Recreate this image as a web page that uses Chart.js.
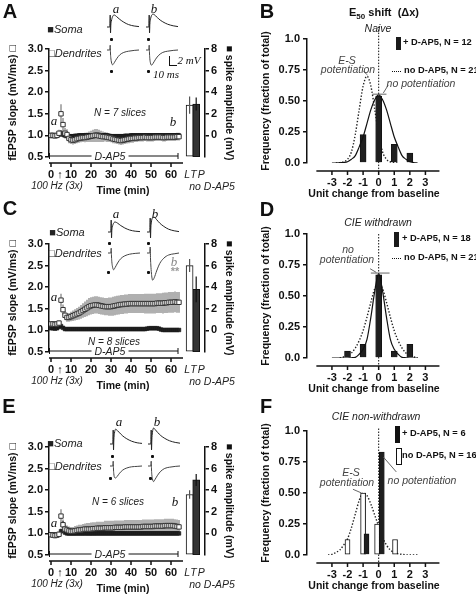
<!DOCTYPE html>
<html><head><meta charset="utf-8">
<script src="https://cdn.jsdelivr.net/npm/chart.js@4.4.0/dist/chart.umd.min.js"></script>
<style>
html,body{margin:0;padding:0;background:#fff;}
#fig{position:relative;width:476px;height:599px;overflow:hidden;font-family:"Liberation Sans",Arial,sans-serif;color:#111;}
#fig canvas{position:absolute;}
.t{position:absolute;white-space:nowrap;transform:translate(-50%,-50%);line-height:1;}
.l{position:absolute;white-space:nowrap;transform:translate(0,-50%);line-height:1;}
.lbl{font-weight:bold;font-size:20px;}
.it{font-style:italic;color:#222;font-size:10.5px;}
.sf{font-family:"Liberation Serif","DejaVu Serif",serif;font-style:italic;font-size:13px;}
.lg{font-weight:bold;font-size:9.3px;}
.n{font-style:normal;}
.bx{position:absolute;}
</style></head><body><div id="fig"></div>
<script>
// ================= DATA =================
const minutes = [0,1,2,3,4,5,6,7,8,9,10,11,12,13,14,15,16,17,18,19,20,21,22,23,24,25,26,27,28,29,30,31,32,33,34,35,36,37,38,39,40,41,42,43,44,45,46,47,48,49,50,51,52,53,54,55,56,57,58,59,60,61,62,63,64];
const timeTicks = [0,10,20,30,40,50,60];
const slopeTicks = [0.5,1.0,1.5,2.0,2.5,3.0];
const ampTicks = [0,2,4,6,8];
const unitTicks = [-3,-2,-1,0,1,2,3];
const freqTicks = [0,0.25,0.5,0.75,1.0];
const freqTickLabels = ['0.0','0.25','0.50','0.75','1.0'];

// Panel A (naive)
const dendA = [1.00,1.00,0.99,1.00,1.05, 1.50,1.25,1.05,1.02,0.93, 0.90,0.89,0.90,0.92,0.93, 0.94,0.95,0.95,0.96,0.97, 0.98,0.99,1.00,1.00,0.99, 0.98,0.97,0.97,0.96,0.95, 0.94,0.92,0.91,0.90,0.89, 0.88,0.89,0.90,0.91,0.92, 0.93,0.93,0.94,0.94,0.95, 0.95,0.95,0.96,0.95,0.95, 0.95,0.95,0.96,0.96,0.96, 0.96,0.95,0.95,0.96,0.96, 0.96,0.96,0.96,0.97,0.97];
const dendAErr = [0.07,0.07,0.07,0.07,0.08, 0.22,0.15,0.12,0.12,0.11, 0.10,0.10,0.10,0.10,0.10, 0.10,0.10,0.11,0.11,0.12, 0.13,0.14,0.15,0.15,0.14, 0.13,0.12,0.11,0.11,0.10, 0.10,0.10,0.10,0.10,0.10, 0.10,0.10,0.10,0.10,0.10, 0.10,0.10,0.09,0.09,0.09, 0.09,0.09,0.09,0.09,0.09, 0.09,0.09,0.09,0.09,0.09, 0.09,0.09,0.09,0.09,0.09, 0.09,0.09,0.09,0.09,0.09];
const somaA = [1.00,1.00,1.00,1.00,1.02, 1.05,1.02,1.00,0.99,0.98, 0.98,0.98,0.99,0.99,1.00, 1.00,1.00,1.00,1.00,1.00, 1.00,1.00,1.01,1.01,1.01, 1.00,1.00,1.00,1.00,0.99, 0.98,0.98,0.98,0.98,0.98, 0.98,0.98,0.99,0.99,0.99, 1.00,1.00,1.00,1.00,1.00, 1.00,1.00,1.00,1.00,1.00, 1.00,1.00,1.00,1.00,1.00, 1.00,1.00,1.00,1.00,1.00, 1.00,1.00,1.00,1.00,1.00];
const somaAErr = [0.04,0.04,0.04,0.04,0.05, 0.07,0.06,0.05,0.05,0.05, 0.05,0.05,0.05,0.05,0.05, 0.05,0.05,0.05,0.05,0.05, 0.05,0.05,0.05,0.05,0.05, 0.05,0.05,0.05,0.05,0.05, 0.05,0.05,0.05,0.05,0.05, 0.05,0.05,0.05,0.05,0.05, 0.05,0.05,0.05,0.05,0.05, 0.05,0.05,0.05,0.05,0.05, 0.05,0.05,0.05,0.05,0.05, 0.05,0.05,0.05,0.05,0.05, 0.05,0.05,0.05,0.05,0.05];
const ltpA = {slope:1.70, slopeErr:0.20, amp:2.9, ampErr:0.6};

// Panel C (CIE withdrawn)
const dendC = [1.15,1.15,1.14,1.15,1.17, 1.70,1.48,1.35,1.30,1.30, 1.32,1.34,1.36,1.38,1.40, 1.43,1.46,1.49,1.52,1.55, 1.57,1.58,1.59,1.59,1.58, 1.57,1.56,1.55,1.55,1.55, 1.55,1.56,1.57,1.58,1.59, 1.60,1.60,1.61,1.61,1.62, 1.62,1.62,1.62,1.62,1.62, 1.62,1.62,1.62,1.62,1.62, 1.62,1.62,1.62,1.63,1.63, 1.63,1.63,1.64,1.64,1.65, 1.65,1.65,1.66,1.65,1.65];
const dendCErr = [0.04,0.04,0.04,0.04,0.06, 0.15,0.12,0.10,0.10,0.10, 0.11,0.12,0.13,0.14,0.15, 0.16,0.17,0.18,0.19,0.20, 0.20,0.20,0.20,0.20,0.20, 0.20,0.20,0.20,0.20,0.21, 0.21,0.22,0.22,0.22,0.22, 0.22,0.22,0.22,0.22,0.22, 0.22,0.22,0.22,0.22,0.22, 0.22,0.22,0.23,0.23,0.23, 0.23,0.23,0.23,0.23,0.23, 0.23,0.24,0.24,0.24,0.24, 0.24,0.24,0.24,0.24,0.24];
const somaC = [1.05,1.05,1.04,1.05,1.08, 1.10,1.06,1.03,1.03,1.03, 1.03,1.03,1.03,1.03,1.03, 1.03,1.03,1.03,1.03,1.03, 1.03,1.03,1.03,1.03,1.03, 1.03,1.03,1.03,1.03,1.03, 1.03,1.03,1.03,1.03,1.03, 1.03,1.03,1.03,1.03,1.03, 1.03,1.03,1.03,1.03,1.03, 1.03,1.03,1.03,1.04,1.05, 1.05,1.05,1.05,1.05,1.04, 1.02,1.01,1.01,1.01,1.01, 1.01,1.01,1.01,1.01,1.01];
const somaCErr = [0.03,0.03,0.03,0.03,0.03, 0.04,0.03,0.02,0.02,0.02, 0.02,0.02,0.02,0.02,0.02, 0.02,0.02,0.02,0.02,0.02, 0.02,0.02,0.02,0.02,0.02, 0.02,0.02,0.02,0.02,0.02, 0.02,0.02,0.02,0.02,0.02, 0.02,0.02,0.02,0.02,0.02, 0.02,0.02,0.02,0.02,0.02, 0.02,0.02,0.02,0.02,0.02, 0.02,0.02,0.02,0.02,0.02, 0.02,0.02,0.02,0.02,0.02, 0.02,0.02,0.02,0.02,0.02];
const ltpC = {slope:2.50, slopeErr:0.15, amp:3.8, ampErr:1.2};

// Panel E (CIE non-withdrawn)
const dendE = [0.97,0.96,0.95,0.96,0.98, 1.40,1.20,1.10,1.08,1.06, 1.05,1.05,1.06,1.07,1.08, 1.08,1.09,1.10,1.10,1.10, 1.10,1.11,1.11,1.12,1.12, 1.12,1.12,1.13,1.13,1.13, 1.13,1.13,1.14,1.14,1.14, 1.14,1.14,1.15,1.15,1.15, 1.15,1.15,1.15,1.15,1.15, 1.15,1.16,1.16,1.16,1.16, 1.16,1.16,1.17,1.17,1.17, 1.17,1.17,1.18,1.18,1.18, 1.18,1.18,1.17,1.16,1.15];
const dendEErr = [0.06,0.06,0.06,0.06,0.06, 0.16,0.12,0.10,0.10,0.10, 0.10,0.10,0.11,0.11,0.12, 0.12,0.13,0.13,0.14,0.14, 0.15,0.15,0.15,0.15,0.15, 0.15,0.15,0.16,0.16,0.16, 0.16,0.16,0.16,0.16,0.16, 0.16,0.16,0.16,0.16,0.16, 0.16,0.16,0.16,0.16,0.16, 0.16,0.16,0.16,0.16,0.16, 0.16,0.16,0.16,0.16,0.16, 0.16,0.16,0.16,0.16,0.16, 0.16,0.16,0.16,0.16,0.16];
const somaE = [0.97,0.97,0.97,0.97,0.98, 1.05,1.20,1.02,1.00,1.00, 1.00,1.00,1.00,1.00,1.00, 1.00,1.00,1.00,1.00,1.00, 1.00,1.00,1.00,1.00,1.00, 1.00,1.00,1.00,1.00,1.00, 1.00,1.00,1.00,1.00,1.00, 1.00,1.00,1.00,1.00,1.00, 1.00,1.00,1.00,1.00,1.00, 1.00,1.00,1.00,1.00,1.00, 1.00,1.00,1.00,1.00,1.00, 1.00,1.00,1.00,1.00,1.00, 1.00,1.00,1.00,1.00,1.00];
const somaEErr = [0.05,0.05,0.05,0.05,0.05, 0.06,0.08,0.04,0.04,0.04, 0.04,0.04,0.04,0.04,0.04, 0.04,0.04,0.04,0.04,0.04, 0.04,0.04,0.04,0.04,0.04, 0.04,0.04,0.04,0.04,0.04, 0.04,0.04,0.04,0.04,0.04, 0.04,0.04,0.04,0.04,0.04, 0.04,0.04,0.04,0.04,0.04, 0.04,0.04,0.04,0.04,0.04, 0.04,0.04,0.04,0.04,0.04, 0.04,0.04,0.04,0.04,0.04, 0.04,0.04,0.04,0.04,0.04];
const ltpE = {slope:1.90, slopeErr:0.10, amp:4.95, ampErr:0.55};

// Inset traces (ms, mV)
const traceMs = [-4,-0.5,0,0.4,0.8,1.5,3,5,8,12,17,23,30,36];
const somaTrA_a = [0,0,3,-1.5,0.5,1.5,2.6,3.0,2.6,1.9,1.2,0.6,0.25,0.1];
const somaTrA_b = [0,0,3,-1.5,0.6,1.8,2.9,3.2,2.8,2.0,1.3,0.7,0.3,0.1];
const dendTrA_a = [0,0,1.2,-1,-2,-3,-3.7,-3.2,-2.2,-1.2,-0.6,-0.3,-0.1,0];
const dendTrA_b = [0,0,1.2,-1,-2.2,-3.2,-3.8,-3.3,-2.3,-1.3,-0.6,-0.3,-0.1,0];
const somaTrC_a = [0,0,3,-1.5,0.4,1.3,2.2,2.5,2.2,1.6,1.0,0.5,0.2,0.1];
const somaTrC_b = [0,0,3.5,-1.5,1.0,2.5,3.6,3.7,3.1,2.2,1.4,0.7,0.3,0.1];
const dendTrC_a = [0,0,1.2,-1,-2.2,-3.3,-4.2,-3.6,-2.5,-1.4,-0.7,-0.3,-0.1,0];
const dendTrC_b = [0,0,1.5,-1.5,-3,-5,-6.8,-6.2,-4.5,-2.6,-1.3,-0.5,-0.2,0];
const somaTrE_a = [0,0,3.5,-1.5,1.0,2.6,3.7,3.4,2.8,2.0,1.3,0.7,0.3,0.15];
const somaTrE_b = [0,0,3.5,-1.5,1.0,2.8,4.0,3.6,2.9,2.1,1.4,0.8,0.4,0.2];
const dendTrE_a = [0,0,1.2,-1,-2,-2.8,-3,-2.6,-1.8,-1.0,-0.5,-0.2,-0.1,0];
const dendTrE_b = [0,0,1.2,-1,-2.2,-3.2,-3.9,-3.3,-2.3,-1.3,-0.6,-0.3,-0.1,0];

// Panel B (naive) histogram
const bPlusX = [-1,0,1,2];
const bPlusY = [0.23,0.54,0.15,0.08];
const bFitX = [-3,-2.75,-2.5,-2.25,-2,-1.75,-1.5,-1.25,-1,-0.75,-0.5,-0.25,0,0.25,0.5,0.75,1,1.25,1.5,1.75,2,2.25,2.5];
const bFitY = [0,0,0.002,0.004,0.01,0.03,0.06,0.13,0.21,0.32,0.43,0.51,0.55,0.51,0.43,0.32,0.21,0.13,0.06,0.03,0.01,0.004,0];
const bNoX = [-2.75,-2.5,-2.25,-2,-1.75,-1.5,-1.25,-1,-0.75,-0.5,-0.25,0,0.25,0.5,0.75,1,1.25];
const bNoY = [0,0.003,0.01,0.03,0.09,0.23,0.43,0.62,0.7,0.62,0.43,0.23,0.09,0.03,0.01,0.003,0];

// Panel D (CIE withdrawn)
const dPlusX = [-2,-1,0,1,2];
const dPlusY = [0.055,0.11,0.67,0.055,0.11];
const dFitX = [-3,-2.5,-2,-1.75,-1.5,-1.25,-1,-0.75,-0.5,-0.25,0,0.25,0.5,0.75,1,1.25,1.5,1.75,2,2.5];
const dFitY = [0,0,0,0.002,0.005,0.03,0.07,0.15,0.33,0.54,0.68,0.54,0.33,0.15,0.07,0.03,0.005,0.002,0,0];
const dNoX = [-2.5,-2,-1.75,-1.5,-1.25,-1,-0.75,-0.5,-0.25,0,0.25,0.5,0.75,1,1.25,1.5,1.75,2,2.5];
const dNoY = [0,0.02,0.04,0.08,0.14,0.22,0.33,0.45,0.56,0.6,0.56,0.45,0.33,0.22,0.14,0.08,0.04,0.02,0];

// Panel F (CIE non-withdrawn)
const fPlusX = [-0.78,0.2];
const fPlusY = [0.17,0.83];
const fNoBarX = [-2,-1,-0.1,1.05];
const fNoBarY = [0.125,0.5,0.25,0.125];
const fNoX = [-3.25,-3,-2.75,-2.5,-2.25,-2,-1.75,-1.5,-1.25,-1,-0.75,-0.5,-0.25,0,0.25,0.5,0.75,1,1.5,2,2.5];
const fNoY = [0,0.005,0.02,0.04,0.08,0.13,0.22,0.33,0.44,0.5,0.48,0.41,0.32,0.23,0.14,0.08,0.04,0.02,0.005,0,0];

const slices = [7,8,6];

// ================= HELPERS =================
Chart.defaults.font.family = '"Liberation Sans", Arial, sans-serif';
Chart.defaults.color = '#111';
const fig = document.getElementById('fig');
function canvas(l,t,w,h){const c=document.createElement('canvas');c.width=w;c.height=h;c.style.left=l+'px';c.style.top=t+'px';c.style.width=w+'px';c.style.height=h+'px';fig.appendChild(c);return c;}
function txt(s,x,y,cls,st){const d=document.createElement('div');d.className='t '+(cls||'');d.innerHTML=s;d.style.left=x+'px';d.style.top=y+'px';if(st)d.style.cssText+=st;fig.appendChild(d);return d;}
function ltxt(s,x,y,cls,st){const d=txt(s,x,y,cls,st);d.className='l '+(cls||'');return d;}
function box(x,y,w,h,st){const d=document.createElement('div');d.className='bx';d.style.left=x+'px';d.style.top=y+'px';d.style.width=w+'px';d.style.height=h+'px';d.style.cssText+=st;fig.appendChild(d);return d;}
const pts=(xs,ys)=>xs.map((x,i)=>({x:x,y:ys[i]}));
const tfont=(s,w)=>({family:'"Liberation Sans", Arial, sans-serif',size:s,weight:w||'bold'});

const errorBars = {
  id:'errorBars',
  draw(chart, after){
    const ctx=chart.ctx;
    chart.data.datasets.forEach((ds,i)=>{
      if(!ds.errorBars || !!ds.errorBars.after!==after) return;
      const meta=chart.getDatasetMeta(i); const ys=chart.scales[meta.yAxisID];
      ctx.save(); ctx.strokeStyle=ds.errorBars.color; ctx.lineWidth=ds.errorBars.width; ctx.beginPath();
      meta.data.forEach((el,j)=>{const e=ds.errorBars.values[j]; const v=ds.data[j].y; if(!e) return;
        ctx.moveTo(el.x, ys.getPixelForValue(v-e)); ctx.lineTo(el.x, ys.getPixelForValue(v+e));});
      ctx.stroke(); ctx.restore();
    });
  },
  beforeDatasetsDraw(chart){this.draw(chart,false);},
  afterDatasetsDraw(chart){this.draw(chart,true);}
};

const timeAxis = {
  id:'timeAxis',
  afterDraw(chart,args,o){
    const {ctx,chartArea:a,scales:{x}}=chart;
    ctx.save(); ctx.strokeStyle='#111'; ctx.lineWidth=1.5;
    const ya=a.bottom+6; ctx.beginPath();
    ctx.moveTo(x.getPixelForValue(o.from),ya); ctx.lineTo(x.getPixelForValue(o.to),ya);
    timeTicks.forEach(v=>{const p=x.getPixelForValue(v);ctx.moveTo(p,ya);ctx.lineTo(p,ya+4);});
    ctx.stroke();
    ctx.lineWidth=1; const yd=a.bottom-1; const x0=x.getPixelForValue(o.drugFrom), x1=x.getPixelForValue(o.drugTo);
    ctx.beginPath(); ctx.moveTo(x0,yd); ctx.lineTo(x1,yd); ctx.moveTo(x0+0.5,yd-3); ctx.lineTo(x0+0.5,yd+3); ctx.moveTo(x1,yd-3); ctx.lineTo(x1,yd+3); ctx.stroke();
    ctx.restore();
  }
};

const histAxis = {
  id:'histAxis',
  beforeDatasetsDraw(chart,args,o){
    const {ctx,chartArea:a,scales:{x,y}}=chart; const p=x.getPixelForValue(0);
    ctx.save(); ctx.setLineDash([1.5,1.5]); ctx.strokeStyle='#111'; ctx.lineWidth=1;
    ctx.beginPath(); ctx.moveTo(p,y.getPixelForValue(o.vTop)); ctx.lineTo(p,a.bottom+8); ctx.stroke(); ctx.restore();
  },
  afterDraw(chart,args,o){
    const {ctx,chartArea:a,scales:{x,y}}=chart;
    ctx.save(); ctx.strokeStyle='#111'; ctx.lineWidth=1.5; const ya=a.bottom+8;
    ctx.beginPath(); ctx.moveTo(x.getPixelForValue(-4),ya); ctx.lineTo(x.getPixelForValue(3.9),ya);
    unitTicks.forEach(v=>{const p=x.getPixelForValue(v);ctx.moveTo(p,ya);ctx.lineTo(p,ya+4);});
    ctx.stroke();
    ctx.strokeStyle='#555'; ctx.lineWidth=0.9; ctx.beginPath();
    (o.lines||[]).forEach(l=>{ctx.moveTo(x.getPixelForValue(l[0]),y.getPixelForValue(l[1]));ctx.lineTo(x.getPixelForValue(l[2]),y.getPixelForValue(l[3]));});
    ctx.stroke(); ctx.restore();
  }
};

// ================= TIME-COURSE PANELS =================
const SL=[0.5,3.0], AM=[-2,8], LTPX=[69.3,72.6];
function timePanel(top, dend, dendErr, soma, somaErr, ltp){
  const cv=canvas(0,top,236,200);
  new Chart(cv,{
    type:'line',
    data:{datasets:[
      {label:'Dendrites',data:pts(minutes,dend),showLine:false,pointStyle:'rect',pointRadius:3.1,pointBackgroundColor:'#fff',pointBorderColor:'#333',pointBorderWidth:1,errorBars:{values:dendErr,color:'#858585',width:1.3},yAxisID:'y'},
      {label:'Soma',data:pts(minutes,soma),showLine:false,pointStyle:'rect',pointRadius:2.6,pointBackgroundColor:'#222',pointBorderColor:'#111',pointBorderWidth:0.5,errorBars:{values:somaErr,color:'#111',width:1.3},yAxisID:'y'},
      {type:'bar',label:'LTP slope',data:[{x:LTPX[0],y:ltp.slope}],yAxisID:'y',base:SL[0],backgroundColor:'#fff',borderColor:'#111',borderWidth:1,borderSkipped:false,barThickness:7,grouped:false,errorBars:{values:[ltp.slopeErr],color:'#555',width:1.2,after:true}},
      {type:'bar',label:'LTP spike',data:[{x:LTPX[1],y:ltp.amp}],yAxisID:'y2',base:AM[0],backgroundColor:'#333',borderColor:'#111',borderWidth:1,borderSkipped:false,barThickness:7,grouped:false,errorBars:{values:[ltp.ampErr],color:'#111',width:1.2,after:true}}
    ]},
    options:{
      responsive:false,animation:false,devicePixelRatio:1,events:[],
      layout:{padding:{top:49,left:0,right:0,bottom:0}},
      plugins:{legend:{display:false},tooltip:{enabled:false},timeAxis:{from:-1,to:66,drugFrom:-1,drugTo:63.5}},
      scales:{
        x:{type:'linear',offset:false,min:-1,max:77,afterBuildTicks:s=>{s.ticks=timeTicks.map(v=>({value:v}));},
           grid:{display:false,drawTicks:false,tickLength:0,offset:false},border:{display:false},
           ticks:{padding:11,font:tfont(11),color:'#111',maxRotation:0,autoSkip:false,callback:v=>String(v)},
           title:{display:false},
           afterFit:s=>{s.height=43;}},
        y:{position:'left',min:SL[0],max:SL[1],beginAtZero:false,afterBuildTicks:s=>{s.ticks=slopeTicks.map(v=>({value:v}));},
           grid:{drawOnChartArea:false,drawTicks:true,tickLength:4,color:'#111',lineWidth:1.5},
           border:{display:true,color:'#111',width:1.5},
           ticks:{padding:2,font:tfont(11),color:'#111',callback:v=>v.toFixed(1)},
           title:{display:true,text:'fEPSP slope (mV/ms) \u25A1',font:tfont(10.5),color:'#111',padding:{top:7,bottom:0}},
           afterFit:s=>{s.width=49;}},
        y2:{position:'right',min:AM[0],max:AM[1],afterBuildTicks:s=>{s.ticks=ampTicks.map(v=>({value:v}));},
           grid:{drawOnChartArea:false,drawTicks:true,tickLength:4,color:'#111',lineWidth:1.5},
           border:{display:true,color:'#111',width:1.5},
           ticks:{padding:2,font:tfont(11),color:'#111',callback:v=>String(v)},
           title:{display:true,text:'\u25A0 spike amplitude (mV)',font:tfont(10.5),color:'#111',padding:{top:1,bottom:0}},
           afterFit:s=>{s.width=31;}}
      }
    },
    plugins:[errorBars,timeAxis]
  });
}
timePanel(0,dendA,dendAErr,somaA,somaAErr,ltpA);
timePanel(195,dendC,dendCErr,somaC,somaCErr,ltpC);
timePanel(398,dendE,dendEErr,somaE,somaEErr,ltpE);

// inset traces
function trace(l,t,vals,kind,color){
  const h = kind==='soma'?28:38; const ymin = kind==='soma'?-2.5:-8; const ymax = kind==='soma'?4.5:1.5;
  const cv=canvas(l,t,32,h);
  new Chart(cv,{type:'line',data:{datasets:[{data:pts(traceMs,vals),borderColor:color,borderWidth:1,pointRadius:0,cubicInterpolationMode:'monotone',fill:false}]},
    options:{responsive:false,animation:false,devicePixelRatio:1,events:[],layout:{padding:0},
      plugins:{legend:{display:false},tooltip:{enabled:false}},
      scales:{x:{type:'linear',display:false,min:-4,max:36},y:{display:false,min:ymin,max:ymax}}}});
}
trace(107,9,somaTrA_a,'soma','#222'); trace(146,9,somaTrA_b,'soma','#222');
trace(107,44,dendTrA_a,'dend','#444'); trace(146,44,dendTrA_b,'dend','#444');
trace(108,214,somaTrC_a,'soma','#222'); trace(147,214,somaTrC_b,'soma','#222');
trace(108,247,dendTrC_a,'dend','#444'); trace(147,247,dendTrC_b,'dend','#444');
trace(110,426,somaTrE_a,'soma','#222'); trace(148,426,somaTrE_b,'soma','#222');
trace(110,460,dendTrE_a,'dend','#444'); trace(148,460,dendTrE_b,'dend','#444');

// ================= HISTOGRAM PANELS =================
function histPanel(top, datasets, vTop, lines){
  const cv=canvas(236,top,240,200);
  new Chart(cv,{
    type:'line',
    data:{datasets:datasets},
    options:{
      responsive:false,animation:false,devicePixelRatio:1,events:[],
      layout:{padding:{top:39,left:0,right:35,bottom:0}},
      plugins:{legend:{display:false},tooltip:{enabled:false},histAxis:{vTop:vTop,lines:lines}},
      scales:{
        x:{type:'linear',offset:false,min:-4.6,max:4.0,afterBuildTicks:s=>{s.ticks=unitTicks.map(v=>({value:v}));},
           grid:{display:false,drawTicks:false,tickLength:0,offset:false},border:{display:false},
           ticks:{padding:13,font:tfont(11),color:'#111',maxRotation:0,autoSkip:false,callback:v=>String(v)},
           title:{display:true,text:'Unit change from baseline',font:tfont(10.5),color:'#111',padding:{top:0,bottom:0}},
           afterFit:s=>{s.height=37;}},
        y:{min:0,max:1,afterBuildTicks:s=>{s.ticks=freqTicks.map(v=>({value:v}));},
           grid:{drawOnChartArea:false,drawTicks:true,tickLength:4,color:'#111',lineWidth:1.5},
           border:{display:true,color:'#111',width:1.5},
           ticks:{padding:3,font:tfont(11),color:'#111',callback:(v,i)=>freqTickLabels[i]},
           title:{display:true,text:'Frequency (fraction of total)',font:tfont(10.5),color:'#111',padding:{top:24,bottom:0}},
           afterFit:s=>{s.width=71;}}
      }
    },
    plugins:[histAxis]
  });
}
const solid=(xs,ys)=>({label:'+ D-AP5 fit',data:pts(xs,ys),borderColor:'#111',borderWidth:1.2,pointRadius:0,cubicInterpolationMode:'monotone',fill:false});
const dotted=(xs,ys)=>({label:'no D-AP5 fit',data:pts(xs,ys),borderColor:'#222',borderWidth:1.4,borderDash:[1.4,1.8],pointRadius:0,cubicInterpolationMode:'monotone',fill:false});
const plusBars=(xs,ys,w)=>({type:'bar',label:'+ D-AP5',data:pts(xs,ys),backgroundColor:'#1f1f1f',borderColor:'#111',borderWidth:0.8,barThickness:w,grouped:false});
const noBars=(xs,ys,w)=>({type:'bar',label:'no D-AP5',data:pts(xs,ys),backgroundColor:'#fff',borderColor:'#111',borderWidth:1,borderSkipped:false,barThickness:w,grouped:false});

histPanel(0,[solid(bFitX,bFitY),plusBars(bPlusX,bPlusY,6),dotted(bNoX,bNoY)],1.1,
  [[-0.4,0.555,0.5,0.555],[0.3,0.565,0.62,0.63],[-0.98,0.74,-0.72,0.71]]);
histPanel(195,[solid(dFitX,dFitY),plusBars(dPlusX,dPlusY,6),dotted(dNoX,dNoY)],1.0,
  [[-0.5,0.685,0.7,0.685],[-0.55,0.72,-0.15,0.69]]);
histPanel(392,[plusBars(fPlusX,fPlusY,5),noBars(fNoBarX,fNoBarY,5),dotted(fNoX,fNoY)],1.02,
  [[-1.65,0.53,-1.1,0.5],[0.3,0.79,1.13,0.67]]);

// ================= TEXT =================
txt('A',10,11,'lbl');
txt('a',116,8,'sf'); txt('b',154,8,'sf');
txt('<span class="n">\u25A0</span>Soma',65,29,'it','font-size:11px');
txt('<span class="n">\u25A1</span>Dendrites',75,53,'it','font-size:11px');
box(169,56,1.3,9.5,'background:#111'); box(169,64.5,8,1.3,'background:#111');
txt('2 mV',189,60,'sf','font-size:11px'); txt('10 ms',166,74,'sf','font-size:11px');
[[111,39],[148,39],[111,71],[148,71]].forEach(p=>box(p[0]-1,p[1]-1,2.5,2.5,'background:#111;border-radius:1px'));
txt('N = '+slices[0]+' slices',120,113,'it','font-size:10px');
txt('a',54,120,'sf'); txt('b',173,121,'sf');
txt('C',10,208,'lbl');
txt('a',116,213,'sf'); txt('b',155,213,'sf');
txt('<span class="n">\u25A0</span>Soma',67,232,'it','font-size:11px');
txt('<span class="n">\u25A1</span>Dendrites',75,253,'it','font-size:11px');
[[109,243],[148,243],[108,272],[148,272]].forEach(p=>box(p[0]-1,p[1]-1,2.5,2.5,'background:#111;border-radius:1px'));
txt('N = '+slices[1]+' slices',114,342,'it','font-size:10px');
txt('a',54,296,'sf'); txt('b',174,261,'sf','color:#888'); txt('**',175,271,'','color:#999;font-weight:bold;font-size:11px');
txt('E',9,406,'lbl');
txt('a',119,421,'sf'); txt('b',157,421,'sf');
txt('<span class="n">\u25A0</span>Soma',65,443,'it','font-size:11px');
txt('<span class="n">\u25A1</span>Dendrites',75,466,'it','font-size:11px');
[[112,456],[152,456],[110,478],[150,478]].forEach(p=>box(p[0]-1,p[1]-1,2.5,2.5,'background:#111;border-radius:1px'));
txt('N = '+slices[2]+' slices',118,502,'it','font-size:10px');
txt('a',54,522,'sf'); txt('b',175,501,'sf');
[0,195,398].forEach(oy=>{
  txt('D-AP5',110,156+oy,'it','background:#fff;padding:0 3px;font-size:10.5px');
  txt('\u2191',60,174+oy,'','font-weight:bold;font-size:11px;background:#fff');
  txt('100 Hz (3x)',57,186+oy,'it','font-size:10px');
  txt('Time (min)',123,190+oy,'','font-weight:bold;font-size:10.5px');
  txt('LTP',195,174+oy,'it','font-size:10.5px;letter-spacing:1px');
  txt('no D-AP5',212,186+oy,'it','font-size:10.5px');
});
txt('B',267,11,'lbl');
txt('E<sub style="font-size:8px">50</sub> shift&nbsp;&nbsp;(\u0394x)',384,14,'','font-weight:bold;font-size:11px');
txt('Naive',378,28,'it');
box(396,37,5,13,'background:#1a1a1a');
ltxt('+ D-AP5, N = 12',403,43,'lg');
box(392,71,9,0,'border-top:1.5px dotted #111');
ltxt('no D-AP5, N = 21',404,71,'lg');
txt('E-S',347,60,'it','color:#444'); txt('potentiation',348,69,'it','color:#444');
txt('no potentiation',421,83,'it','color:#444');
txt('D',267,209,'lbl');
txt('CIE withdrawn',378,222,'it');
box(394,232,5,15,'background:#1a1a1a');
ltxt('+ D-AP5, N = 18',402,239,'lg');
box(392,258,9,0,'border-top:1.5px dotted #111');
ltxt('no D-AP5, N = 21',404,258,'lg');
txt('no',348,249,'it','color:#444'); txt('potentiation',347,259,'it','color:#444');
txt('F',266,406,'lbl');
txt('CIE non-withdrawn',376,416,'it');
box(395,426,5,17,'background:#111');
ltxt('+ D-AP5, N = 6',402,434,'lg');
box(396,448,4,15,'border:1px solid #111;background:#fff');
ltxt('no D-AP5, N = 16',402,456,'lg');
txt('E-S',351,472,'it','color:#444'); txt('potentiation',347,482,'it','color:#444');
txt('no potentiation',422,480,'it','color:#444');
</script>
</body></html>
